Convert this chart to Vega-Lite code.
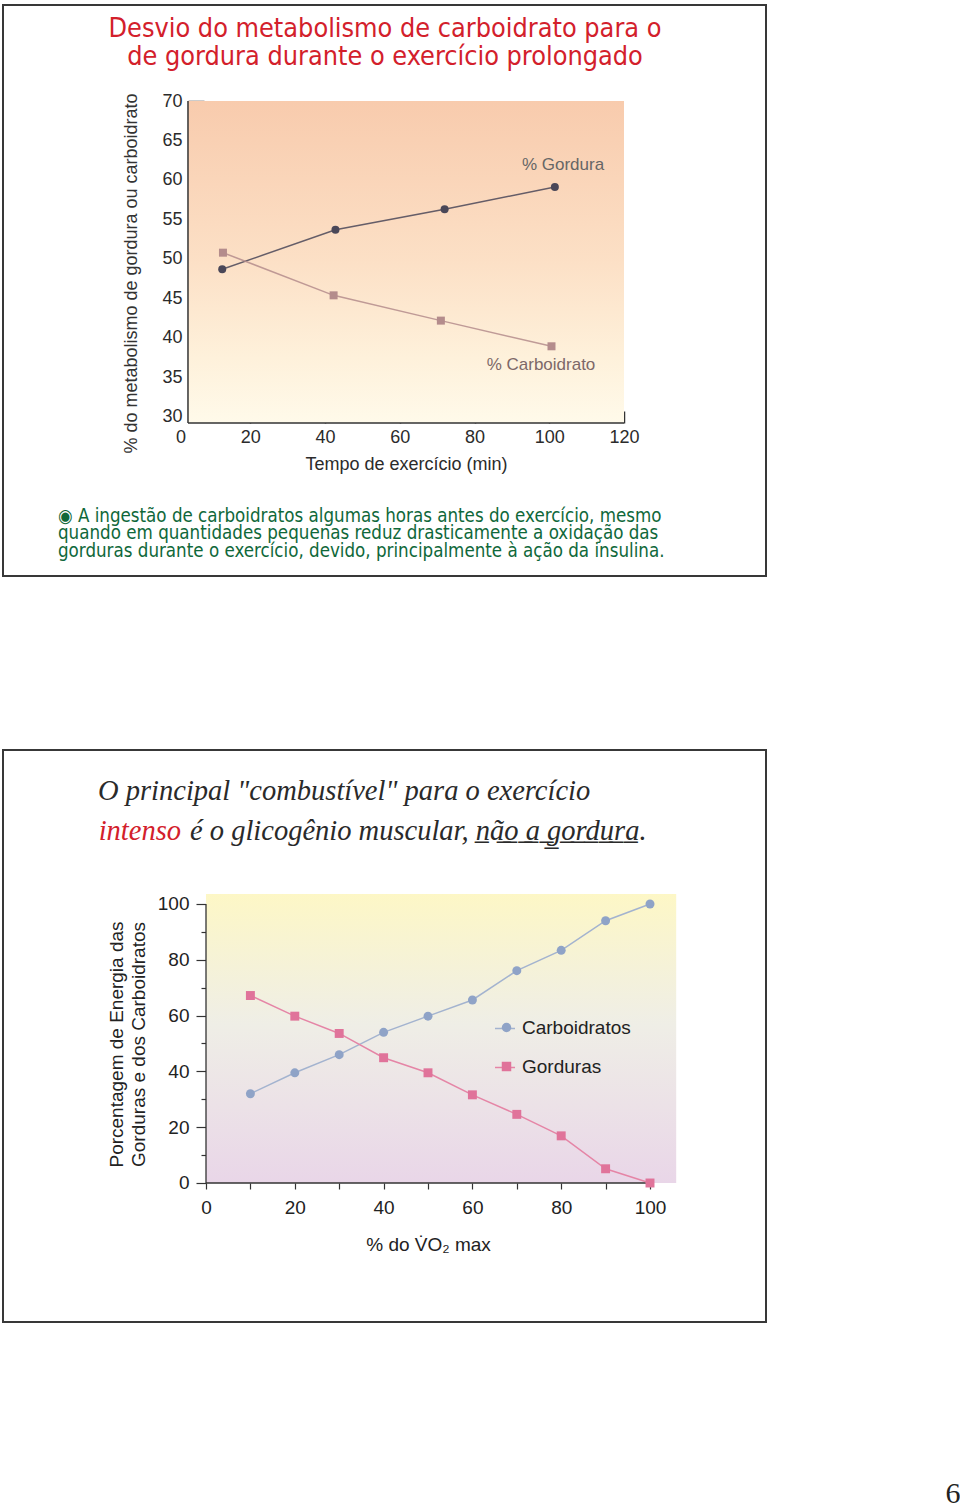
{
  "$schema": "https://vega.github.io/schema/vega-lite/v6.json",
  "background": "white",
  "padding": {"left": 2, "top": 4, "right": 0, "bottom": 0},
  "spacing": 174,
  "bounds": "flush",
  "config": {
    "view": {"stroke": "#383838", "strokeWidth": 2},
    "axis": {"grid": false, "labelFont": "Liberation Sans", "titleFont": "Liberation Sans", "labelFlush": false, "labelOverlap": false, "titleFontWeight": "normal", "zindex": 1}
  },
  "resolve": {"scale": {"x": "independent", "y": "independent", "color": "independent", "shape": "independent", "stroke": "independent"}},
  "datasets": {
    "s1": [
      {"serie1": "Gordura", "t": 12.5, "pct1": 48.7},
      {"serie1": "Gordura", "t": 42.8, "pct1": 53.7},
      {"serie1": "Gordura", "t": 72.0, "pct1": 56.3},
      {"serie1": "Gordura", "t": 101.5, "pct1": 59.1},
      {"serie1": "Carboidrato", "t": 12.7, "pct1": 50.8},
      {"serie1": "Carboidrato", "t": 42.3, "pct1": 45.4},
      {"serie1": "Carboidrato", "t": 71.0, "pct1": 42.2},
      {"serie1": "Carboidrato", "t": 100.6, "pct1": 38.95}
    ],
    "s2": [
      {"serie2": "Carboidratos", "vo2": 10, "pct2": 32.0},
      {"serie2": "Carboidratos", "vo2": 20, "pct2": 39.5},
      {"serie2": "Carboidratos", "vo2": 30, "pct2": 46.0},
      {"serie2": "Carboidratos", "vo2": 40, "pct2": 54.0},
      {"serie2": "Carboidratos", "vo2": 50, "pct2": 59.8},
      {"serie2": "Carboidratos", "vo2": 60, "pct2": 65.6},
      {"serie2": "Carboidratos", "vo2": 70, "pct2": 76.1},
      {"serie2": "Carboidratos", "vo2": 80, "pct2": 83.4},
      {"serie2": "Carboidratos", "vo2": 90, "pct2": 94.0},
      {"serie2": "Carboidratos", "vo2": 100, "pct2": 100.0},
      {"serie2": "Gorduras", "vo2": 10, "pct2": 67.2},
      {"serie2": "Gorduras", "vo2": 20, "pct2": 59.8},
      {"serie2": "Gorduras", "vo2": 30, "pct2": 53.6},
      {"serie2": "Gorduras", "vo2": 40, "pct2": 44.9},
      {"serie2": "Gorduras", "vo2": 50, "pct2": 39.5},
      {"serie2": "Gorduras", "vo2": 60, "pct2": 31.6},
      {"serie2": "Gorduras", "vo2": 70, "pct2": 24.6},
      {"serie2": "Gorduras", "vo2": 80, "pct2": 16.9},
      {"serie2": "Gorduras", "vo2": 90, "pct2": 5.1},
      {"serie2": "Gorduras", "vo2": 100, "pct2": 0.0}
    ]
  },
  "vconcat": [
    {
      "width": 763,
      "height": 571,
      "layer": [
        {
          "data": {"values": [{}]},
          "mark": {"type": "rect", "fill": {"gradient": "linear", "x1": 0, "y1": 0, "x2": 0, "y2": 1, "stops": [{"offset": 0, "color": "#f8cbad"}, {"offset": 0.5, "color": "#fce0c6"}, {"offset": 0.8, "color": "#fef1db"}, {"offset": 1, "color": "#fffaea"}]}},
          "encoding": {
            "x": {"datum": 3.34, "type": "quantitative"},
            "x2": {"datum": 120},
            "y": {"datum": 29.24, "type": "quantitative"},
            "y2": {"datum": 70}
          }
        },
        {
          "data": {"values": [{}]},
          "mark": {"type": "rule", "stroke": "#333333", "strokeWidth": 1.5},
          "encoding": {
            "x": {"datum": 3.34, "type": "quantitative"},
            "x2": {"datum": 120},
            "y": {"datum": 29.24, "type": "quantitative"}
          }
        },
        {
          "data": {"values": [{}]},
          "mark": {"type": "rule", "stroke": "#333333", "strokeWidth": 1.5},
          "encoding": {
            "x": {"datum": 3.34, "type": "quantitative"},
            "y": {"datum": 29.24, "type": "quantitative"},
            "y2": {"datum": 70}
          }
        },
        {
          "data": {"name": "s1"},
          "mark": {"type": "line", "strokeWidth": 1.5, "opacity": 0.85},
          "encoding": {
            "x": {"field": "t", "type": "quantitative",
              "scale": {"domain": [-46.154, 157.993], "nice": false, "zero": false},
              "axis": {"values": [0, 20, 40, 60, 80, 100, 120], "offset": -153, "domain": false, "tickSize": -12, "tickWidth": 1.5,
                "tickColor": {"condition": {"test": "datum.value === 0", "value": "rgba(0,0,0,0)"}, "value": "#333333"},
                "labelAlign": {"condition": {"test": "datum.value === 0", "value": "left"}, "value": "center"},
                "labelPadding": 17, "labelFontSize": 18, "labelColor": "#2b2b2b",
                "title": "Tempo de exercício (min)", "titleFontSize": 18, "titleColor": "#2b2b2b", "titleX": 403, "titleY": 41, "titleBaseline": "middle"}},
            "y": {"field": "pct1", "type": "quantitative",
              "scale": {"domain": [9.873, 82.152], "nice": false, "zero": false},
              "axis": {"values": [30, 35, 40, 45, 50, 55, 60, 65, 70], "offset": -185, "domain": false, "tickSize": -16, "tickWidth": 1.5,
                "tickColor": {"condition": {"test": "datum.value === 30", "value": "rgba(0,0,0,0)"}, "value": "#333333"},
                "labelPadding": 22, "labelFontSize": 18, "labelColor": "#2b2b2b",
                "title": "% do metabolismo de gordura ou carboidrato", "titleFontSize": 18, "titleColor": "#333333", "titleX": -57, "titleY": 268, "titleBaseline": "middle", "titleAngle": -90}},
            "color": {"field": "serie1", "type": "nominal", "scale": {"domain": ["Gordura", "Carboidrato"], "range": ["#4a4758", "#b48c8c"]}, "legend": null}
          }
        },
        {
          "data": {"name": "s1"},
          "mark": {"type": "point", "filled": true, "opacity": 1, "size": 64},
          "encoding": {
            "x": {"field": "t", "type": "quantitative"},
            "y": {"field": "pct1", "type": "quantitative"},
            "color": {"field": "serie1", "type": "nominal", "legend": null},
            "shape": {"field": "serie1", "type": "nominal", "scale": {"domain": ["Gordura", "Carboidrato"], "range": ["circle", "square"]}, "legend": null}
          }
        },
        {
          "data": {"values": [{"rotulo": "% Gordura"}]},
          "mark": {"type": "text", "font": "Liberation Sans", "fontSize": 17, "color": "#666666", "align": "center", "baseline": "middle"},
          "encoding": {
            "x": {"datum": 103.68, "type": "quantitative"},
            "y": {"datum": 61.9, "type": "quantitative"},
            "text": {"field": "rotulo"}
          }
        },
        {
          "data": {"values": [{"rotulo": "% Carboidrato"}]},
          "mark": {"type": "text", "font": "Liberation Sans", "fontSize": 17, "color": "#7d6868", "align": "center", "baseline": "middle"},
          "encoding": {
            "x": {"datum": 97.79, "type": "quantitative"},
            "y": {"datum": 36.58, "type": "quantitative"},
            "text": {"field": "rotulo"}
          }
        },
        {
          "data": {"values": [{"texto": "Desvio do metabolismo de carboidrato para o\nde gordura durante o exercício prolongado"}]},
          "mark": {"type": "text", "font": "DejaVu Sans Condensed, DejaVu Sans", "fontSize": 26.8, "lineHeight": 27.5, "lineBreak": "\n", "color": "#d3202b", "align": "center", "baseline": "middle"},
          "encoding": {
            "x": {"datum": 56.05, "type": "quantitative"},
            "y": {"datum": 79.114, "type": "quantitative"},
            "text": {"field": "texto"}
          }
        },
        {
          "data": {"values": [{"texto": "◉   A ingestão de carboidratos algumas horas antes do exercício, mesmo\nquando em quantidades pequenas reduz drasticamente a oxidação das\ngorduras durante o exercício, devido, principalmente à ação da insulina."}]},
          "mark": {"type": "text", "font": "DejaVu Sans Condensed, DejaVu Sans", "fontSize": 18.6, "lineHeight": 17.3, "lineBreak": "\n", "color": "#0f683a", "align": "left", "baseline": "middle"},
          "encoding": {
            "x": {"datum": -31.44, "type": "quantitative"},
            "y": {"datum": 17.468, "type": "quantitative"},
            "text": {"field": "texto"}
          }
        }
      ]
    },
    {
      "width": 763,
      "height": 572,
      "layer": [
        {
          "data": {"values": [{}]},
          "mark": {"type": "rect", "fill": {"gradient": "linear", "x1": 0, "y1": 0, "x2": 0, "y2": 1, "stops": [{"offset": 0, "color": "#fdf7c6"}, {"offset": 0.45, "color": "#efeee6"}, {"offset": 1, "color": "#e9d6e8"}]}},
          "encoding": {
            "x": {"datum": 0, "type": "quantitative"},
            "x2": {"datum": 105.9},
            "y": {"datum": 0, "type": "quantitative"},
            "y2": {"datum": 103.6}
          }
        },
        {
          "data": {"values": [{}]},
          "mark": {"type": "rule", "stroke": "#333333", "strokeWidth": 1.3},
          "encoding": {
            "x": {"datum": 0, "type": "quantitative"},
            "x2": {"datum": 100},
            "y": {"datum": 0, "type": "quantitative"}
          }
        },
        {
          "data": {"values": [{}]},
          "mark": {"type": "rule", "stroke": "#333333", "strokeWidth": 1.3},
          "encoding": {
            "x": {"datum": 0, "type": "quantitative"},
            "y": {"datum": 0, "type": "quantitative"},
            "y2": {"datum": 100}
          }
        },
        {
          "data": {"name": "s2"},
          "mark": {"type": "line", "strokeWidth": 1.5},
          "encoding": {
            "x": {"field": "vo2", "type": "quantitative",
              "scale": {"domain": [-45.721, 126.126], "nice": false, "zero": false},
              "axis": {"values": [0, 10, 20, 30, 40, 50, 60, 70, 80, 90, 100], "labelExpr": "datum.value % 20 === 0 ? datum.label : ''",
                "offset": -139, "domain": false, "tickSize": 6, "tickWidth": 1.2, "tickColor": "#333333",
                "labelPadding": 9, "labelFontSize": 19, "labelColor": "#222222",
                "title": "% do V\u0307O\u2082 max", "titleFontSize": 19, "titleColor": "#222222", "titleX": 425, "titleY": 61, "titleBaseline": "middle"}},
            "y": {"field": "pct2", "type": "quantitative",
              "scale": {"domain": [-49.821, 155.197], "nice": false, "zero": false},
              "axis": {"values": [0, 10, 20, 30, 40, 50, 60, 70, 80, 90, 100], "labelExpr": "datum.value % 20 === 0 ? datum.label : ''",
                "offset": -203, "domain": false,
                "tickSize": {"condition": {"test": "datum.value % 20 === 0", "value": 10}, "value": 5},
                "tickWidth": 1.2, "tickColor": "#333333",
                "labelPadding": 7, "labelFontSize": 19, "labelColor": "#222222",
                "title": ["Porcentagem de Energia das", "Gorduras e dos Carboidratos"], "titleFontSize": 19, "titleLineHeight": 22, "titleColor": "#222222", "titleX": -90, "titleY": 294, "titleBaseline": "middle", "titleAngle": -90}},
            "stroke": {"field": "serie2", "type": "nominal", "scale": {"range": ["#a3b3cf", "#e585a6"]},
              "legend": {"orient": "none", "legendX": 491, "legendY": 267.5, "title": null, "labelExpr": "''", "symbolType": "stroke", "symbolSize": 400, "symbolStrokeWidth": 1.5, "rowPadding": 18, "labelFontSize": 19, "zindex": 1}}
          }
        },
        {
          "data": {"name": "s2"},
          "mark": {"type": "point", "filled": true, "opacity": 1, "size": 80},
          "encoding": {
            "x": {"field": "vo2", "type": "quantitative"},
            "y": {"field": "pct2", "type": "quantitative"},
            "color": {"field": "serie2", "type": "nominal", "scale": {"domain": ["Carboidratos", "Gorduras"], "range": ["#8fa3c7", "#e0739a"]},
              "legend": {"orient": "none", "legendX": 494, "legendY": 268, "title": null, "labelFontSize": 19, "labelFont": "Liberation Sans", "labelColor": "#222222", "rowPadding": 19, "symbolSize": 90, "labelOffset": 6, "zindex": 2}},
            "shape": {"field": "serie2", "type": "nominal", "scale": {"domain": ["Carboidratos", "Gorduras"], "range": ["circle", "square"]},
              "legend": {"orient": "none", "legendX": 494, "legendY": 268, "title": null, "labelFontSize": 19, "labelFont": "Liberation Sans", "labelColor": "#222222", "rowPadding": 19, "symbolSize": 90, "labelOffset": 6, "zindex": 2}}
          }
        },
        {
          "data": {"values": [{"texto": "O principal \"combustível\" para o exercício"}]},
          "mark": {"type": "text", "font": "Liberation Serif", "fontStyle": "italic", "fontSize": 28.5, "color": "#2a2a2a", "align": "left", "baseline": "middle"},
          "encoding": {
            "x": {"datum": -24.32, "type": "quantitative"},
            "y": {"datum": 140.5, "type": "quantitative"},
            "text": {"field": "texto"}
          }
        },
        {
          "data": {"values": [{"texto": "intenso"}]},
          "mark": {"type": "text", "font": "Liberation Serif", "fontStyle": "italic", "fontSize": 28.5, "color": "#d3202b", "align": "right", "baseline": "middle"},
          "encoding": {
            "x": {"datum": -5.63, "type": "quantitative"},
            "y": {"datum": 126.16, "type": "quantitative"},
            "text": {"field": "texto"}
          }
        },
        {
          "data": {"values": [{"texto": "é o glicogênio muscular, n\u0332\u00e3\u0332o\u0332 \u0332a\u0332 \u0332g\u0332o\u0332r\u0332d\u0332u\u0332r\u0332a\u0332."}]},
          "mark": {"type": "text", "font": "Liberation Serif", "fontStyle": "italic", "fontSize": 28.5, "color": "#2a2a2a", "align": "left", "baseline": "middle"},
          "encoding": {
            "x": {"datum": -3.6, "type": "quantitative"},
            "y": {"datum": 126.16, "type": "quantitative"},
            "text": {"field": "texto"}
          }
        },
        {
          "data": {"values": [{"texto": "6"}]},
          "mark": {"type": "text", "font": "Liberation Serif", "fontSize": 30, "color": "#222222", "align": "center", "baseline": "middle"},
          "encoding": {
            "x": {"datum": 168.24, "type": "quantitative"},
            "y": {"datum": -111.47, "type": "quantitative"},
            "text": {"field": "texto"}
          }
        }
      ]
    }
  ]
}
